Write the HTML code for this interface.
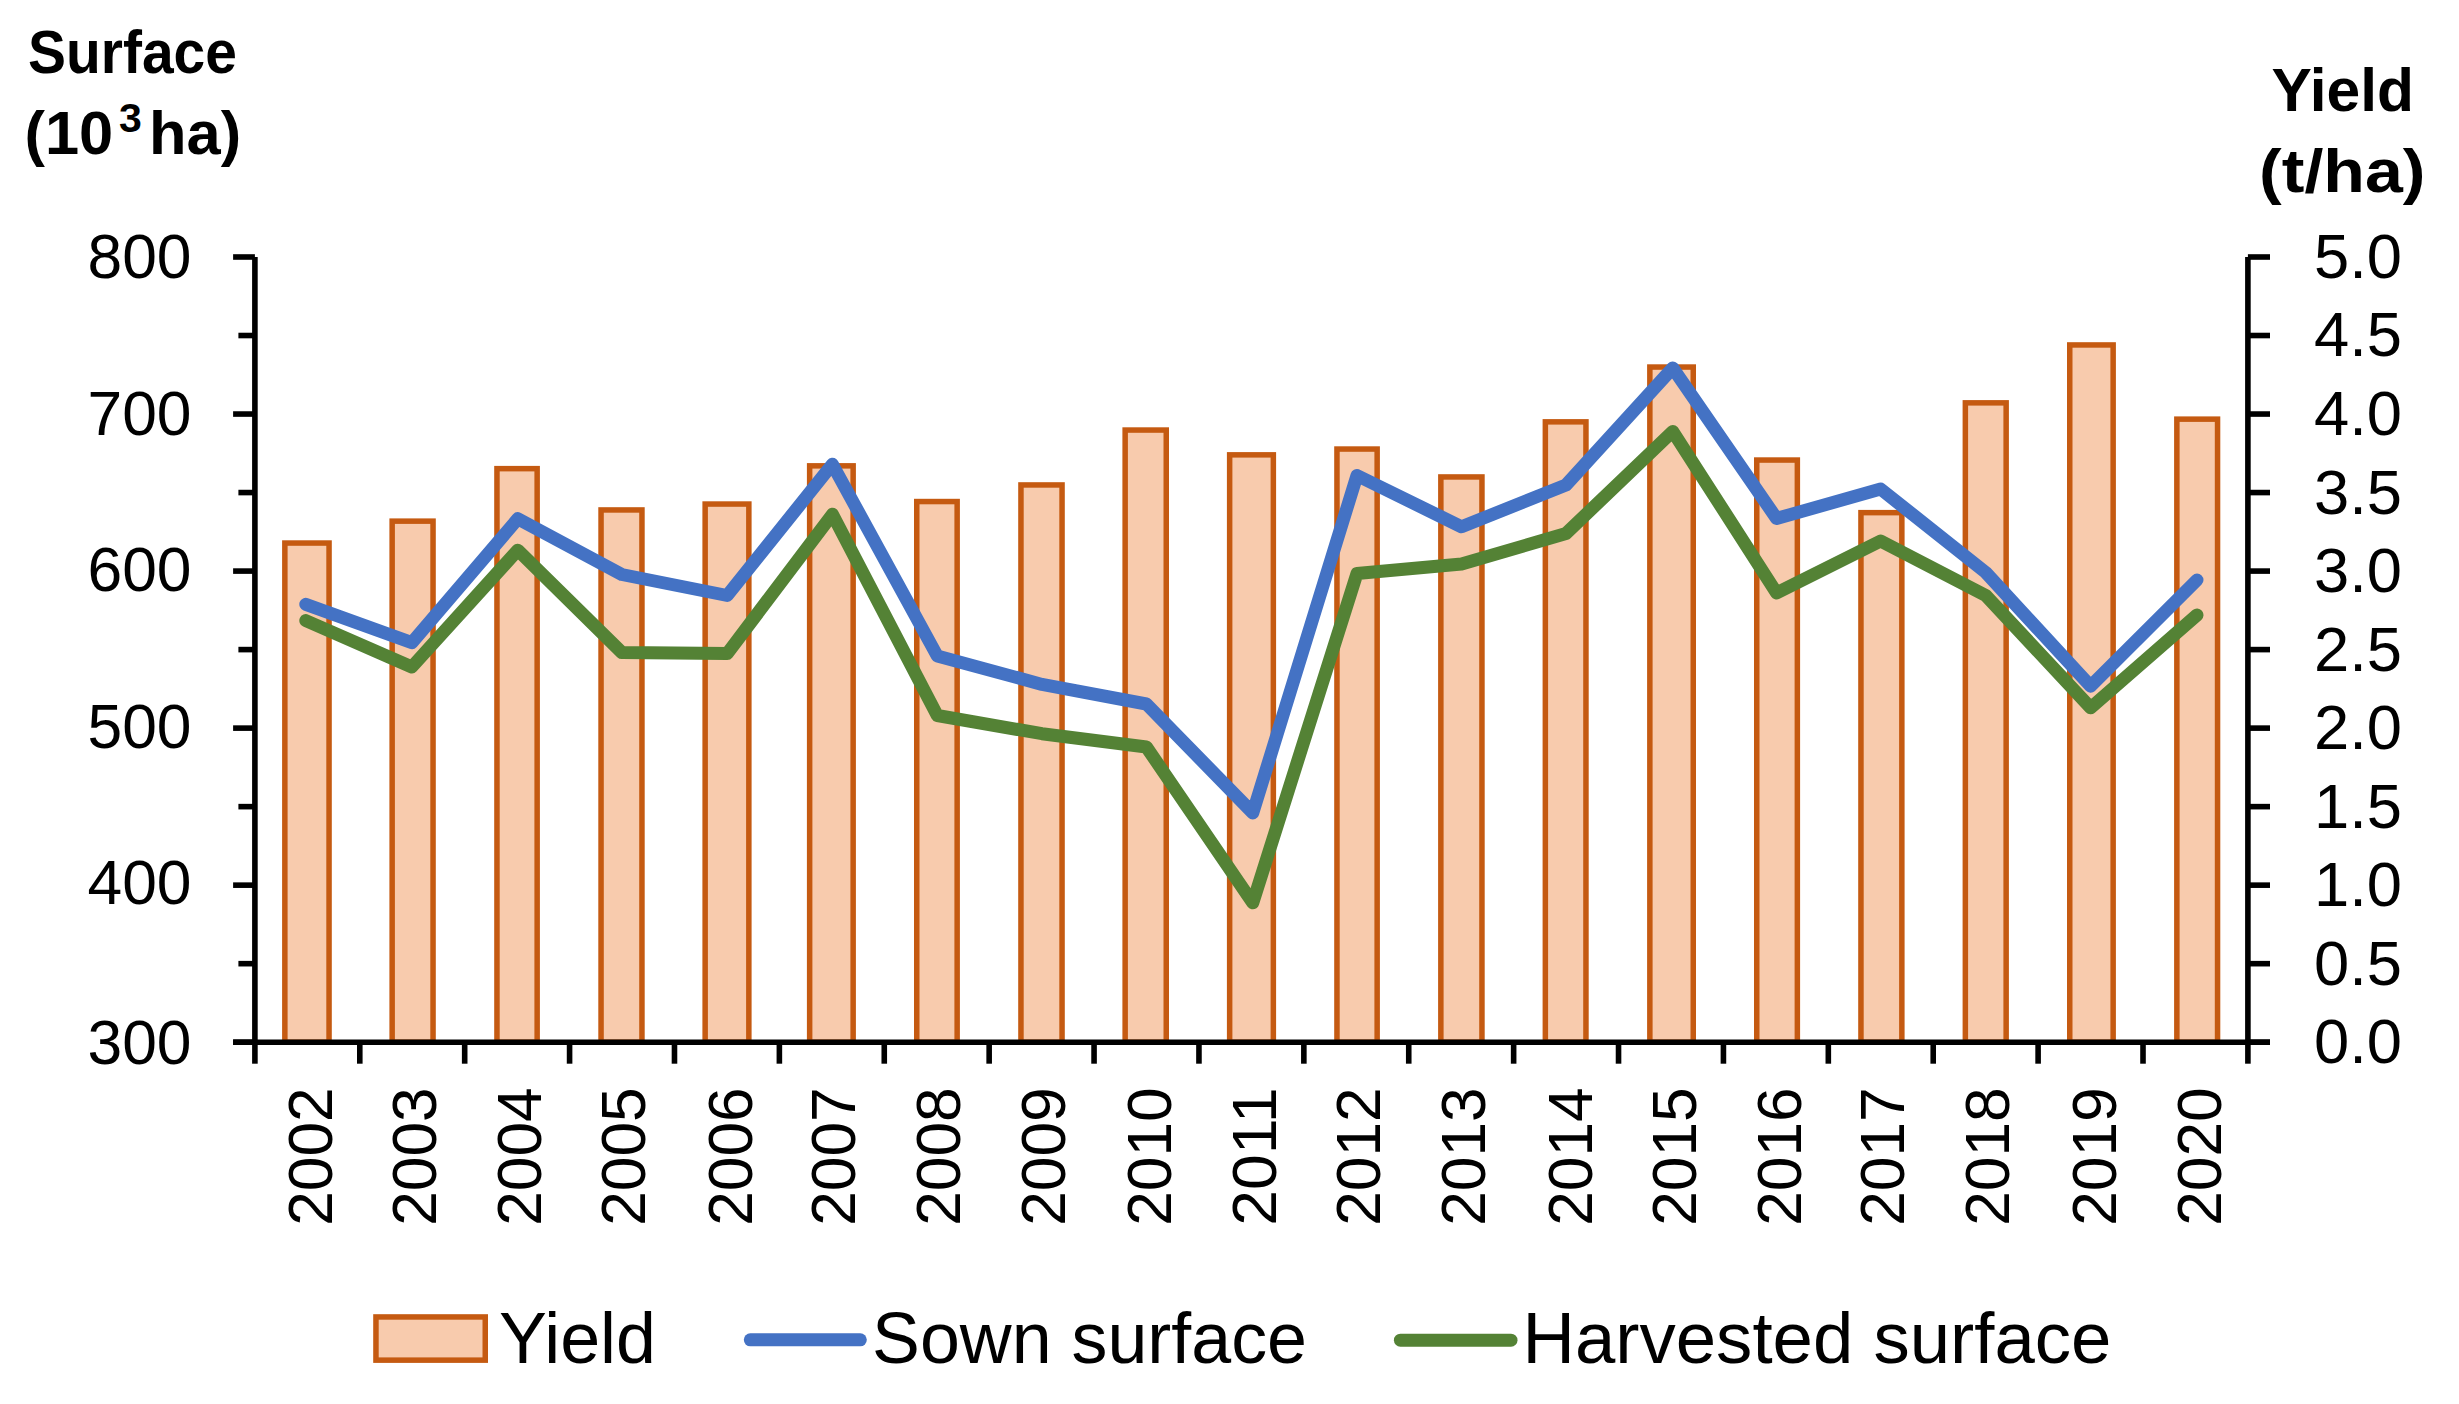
<!DOCTYPE html>
<html lang="en"><head><meta charset="utf-8"><title>Surface and yield 2002-2020</title>
<style>
html,body{margin:0;padding:0;background:#fff;overflow:hidden;}
svg{display:block;}
</style></head><body>
<svg width="2459" height="1404" viewBox="0 0 2459 1404">
<rect x="0" y="0" width="2459" height="1404" fill="#ffffff"/>
<g fill="#F8CBAD" stroke="#C55A11" stroke-width="5.5" stroke-linejoin="miter">
<rect x="284.85" y="543.05" width="44.2" height="499.15"/>
<rect x="392.15" y="521.15" width="40.9" height="521.05"/>
<rect x="496.95" y="468.65" width="40.2" height="573.55"/>
<rect x="601.05" y="509.95" width="40.9" height="532.25"/>
<rect x="705.15" y="504.05" width="43.7" height="538.15"/>
<rect x="809.65" y="465.85" width="43.5" height="576.35"/>
<rect x="916.75" y="501.55" width="40.4" height="540.65"/>
<rect x="1020.95" y="484.95" width="41.1" height="557.25"/>
<rect x="1125.15" y="430.05" width="41.1" height="612.15"/>
<rect x="1229.65" y="454.85" width="43.7" height="587.35"/>
<rect x="1336.95" y="449.05" width="40.2" height="593.15"/>
<rect x="1440.85" y="476.95" width="41.1" height="565.25"/>
<rect x="1545.35" y="421.85" width="40.6" height="620.35"/>
<rect x="1649.85" y="367.05" width="43.4" height="675.15"/>
<rect x="1756.75" y="460.05" width="40.6" height="582.15"/>
<rect x="1860.95" y="512.65" width="40.9" height="529.55"/>
<rect x="1965.35" y="402.85" width="40.8" height="639.35"/>
<rect x="2069.75" y="344.95" width="43.4" height="697.25"/>
<rect x="2176.85" y="419.15" width="40.7" height="623.05"/>
</g>
<polyline points="305.8,604.3 411.8,642.7 517.8,518.8 621.8,574.5 727.2,595.5 832.4,464.3 937.3,656 1042,684.4 1146.4,704 1252.8,812.9 1357,475.5 1461.6,526.8 1566,485 1672.8,368 1776.6,518.5 1880.6,489 1985.8,572.5 2090.6,686.2 2197,580" fill="none" stroke="#4472C4" stroke-width="13" stroke-linejoin="round" stroke-linecap="round"/>
<polyline points="305.8,620.6 411.8,667 517.8,550.2 621.8,652.5 727.2,653.6 832.4,514.3 937.3,715.5 1042,733.7 1146.4,747 1252.8,902.8 1357,573.5 1461.6,564 1566,533.5 1672.8,431.4 1776.6,592.9 1880.6,541 1985.8,595.5 2090.6,707.8 2197,615" fill="none" stroke="#548235" stroke-width="13" stroke-linejoin="round" stroke-linecap="round"/>
<g stroke="#000" stroke-width="5.6" stroke-linecap="butt"><line x1="254.9" y1="257" x2="254.9" y2="1042.2"/><line x1="2247.9" y1="257" x2="2247.9" y2="1042.2"/><line x1="233.1" y1="1042.2" x2="2270" y2="1042.2"/><line x1="233.1" y1="257" x2="254.9" y2="257"/><line x1="2247.9" y1="257" x2="2270" y2="257"/><line x1="238.4" y1="335.52" x2="254.9" y2="335.52"/><line x1="2247.9" y1="335.52" x2="2270" y2="335.52"/><line x1="233.1" y1="414.04" x2="254.9" y2="414.04"/><line x1="2247.9" y1="414.04" x2="2270" y2="414.04"/><line x1="238.4" y1="492.56" x2="254.9" y2="492.56"/><line x1="2247.9" y1="492.56" x2="2270" y2="492.56"/><line x1="233.1" y1="571.08" x2="254.9" y2="571.08"/><line x1="2247.9" y1="571.08" x2="2270" y2="571.08"/><line x1="238.4" y1="649.6" x2="254.9" y2="649.6"/><line x1="2247.9" y1="649.6" x2="2270" y2="649.6"/><line x1="233.1" y1="728.12" x2="254.9" y2="728.12"/><line x1="2247.9" y1="728.12" x2="2270" y2="728.12"/><line x1="238.4" y1="806.64" x2="254.9" y2="806.64"/><line x1="2247.9" y1="806.64" x2="2270" y2="806.64"/><line x1="233.1" y1="885.16" x2="254.9" y2="885.16"/><line x1="2247.9" y1="885.16" x2="2270" y2="885.16"/><line x1="238.4" y1="963.68" x2="254.9" y2="963.68"/><line x1="2247.9" y1="963.68" x2="2270" y2="963.68"/><line x1="233.1" y1="1042.2" x2="254.9" y2="1042.2"/><line x1="2247.9" y1="1042.2" x2="2270" y2="1042.2"/><line x1="254.9" y1="1042.2" x2="254.9" y2="1063.7"/><line x1="359.79" y1="1042.2" x2="359.79" y2="1063.7"/><line x1="464.69" y1="1042.2" x2="464.69" y2="1063.7"/><line x1="569.58" y1="1042.2" x2="569.58" y2="1063.7"/><line x1="674.48" y1="1042.2" x2="674.48" y2="1063.7"/><line x1="779.37" y1="1042.2" x2="779.37" y2="1063.7"/><line x1="884.27" y1="1042.2" x2="884.27" y2="1063.7"/><line x1="989.16" y1="1042.2" x2="989.16" y2="1063.7"/><line x1="1094.06" y1="1042.2" x2="1094.06" y2="1063.7"/><line x1="1198.95" y1="1042.2" x2="1198.95" y2="1063.7"/><line x1="1303.85" y1="1042.2" x2="1303.85" y2="1063.7"/><line x1="1408.74" y1="1042.2" x2="1408.74" y2="1063.7"/><line x1="1513.64" y1="1042.2" x2="1513.64" y2="1063.7"/><line x1="1618.53" y1="1042.2" x2="1618.53" y2="1063.7"/><line x1="1723.43" y1="1042.2" x2="1723.43" y2="1063.7"/><line x1="1828.32" y1="1042.2" x2="1828.32" y2="1063.7"/><line x1="1933.22" y1="1042.2" x2="1933.22" y2="1063.7"/><line x1="2038.11" y1="1042.2" x2="2038.11" y2="1063.7"/><line x1="2143.01" y1="1042.2" x2="2143.01" y2="1063.7"/><line x1="2247.9" y1="1042.2" x2="2247.9" y2="1063.7"/></g>
<g font-family="'Liberation Sans', sans-serif" fill="#000">
<text x="191.5" y="278.22" font-size="62.4" text-anchor="end" textLength="104" lengthAdjust="spacingAndGlyphs">800</text>
<text x="191.5" y="434.92" font-size="62.4" text-anchor="end" textLength="104" lengthAdjust="spacingAndGlyphs">700</text>
<text x="191.5" y="591.22" font-size="62.4" text-anchor="end" textLength="104" lengthAdjust="spacingAndGlyphs">600</text>
<text x="191.5" y="747.87" font-size="62.4" text-anchor="end" textLength="104" lengthAdjust="spacingAndGlyphs">500</text>
<text x="191.5" y="904.47" font-size="62.4" text-anchor="end" textLength="104" lengthAdjust="spacingAndGlyphs">400</text>
<text x="191.5" y="1063.72" font-size="62.4" text-anchor="end" textLength="104" lengthAdjust="spacingAndGlyphs">300</text>
<text x="2314" y="277.97" font-size="62.4" textLength="88" lengthAdjust="spacingAndGlyphs">5.0</text>
<text x="2314" y="356.49" font-size="62.4" textLength="88" lengthAdjust="spacingAndGlyphs">4.5</text>
<text x="2314" y="435.01" font-size="62.4" textLength="88" lengthAdjust="spacingAndGlyphs">4.0</text>
<text x="2314" y="513.53" font-size="62.4" textLength="88" lengthAdjust="spacingAndGlyphs">3.5</text>
<text x="2314" y="592.05" font-size="62.4" textLength="88" lengthAdjust="spacingAndGlyphs">3.0</text>
<text x="2314" y="670.57" font-size="62.4" textLength="88" lengthAdjust="spacingAndGlyphs">2.5</text>
<text x="2314" y="749.09" font-size="62.4" textLength="88" lengthAdjust="spacingAndGlyphs">2.0</text>
<text x="2314" y="827.61" font-size="62.4" textLength="88" lengthAdjust="spacingAndGlyphs">1.5</text>
<text x="2314" y="906.13" font-size="62.4" textLength="88" lengthAdjust="spacingAndGlyphs">1.0</text>
<text x="2314" y="984.65" font-size="62.4" textLength="88" lengthAdjust="spacingAndGlyphs">0.5</text>
<text x="2314" y="1063.17" font-size="62.4" textLength="88" lengthAdjust="spacingAndGlyphs">0.0</text>
<text transform="translate(331.94,1225.8) rotate(-90)" font-size="63.2" textLength="138.4" lengthAdjust="spacingAndGlyphs">2002</text>
<text transform="translate(436.34,1225.8) rotate(-90)" font-size="63.2" textLength="138.4" lengthAdjust="spacingAndGlyphs">2003</text>
<text transform="translate(540.64,1225.8) rotate(-90)" font-size="63.2" textLength="138.4" lengthAdjust="spacingAndGlyphs">2004</text>
<text transform="translate(645.34,1225.8) rotate(-90)" font-size="63.2" textLength="138.4" lengthAdjust="spacingAndGlyphs">2005</text>
<text transform="translate(751.54,1225.8) rotate(-90)" font-size="63.2" textLength="138.4" lengthAdjust="spacingAndGlyphs">2006</text>
<text transform="translate(855.44,1225.8) rotate(-90)" font-size="63.2" textLength="138.4" lengthAdjust="spacingAndGlyphs">2007</text>
<text transform="translate(959.94,1225.8) rotate(-90)" font-size="63.2" textLength="138.4" lengthAdjust="spacingAndGlyphs">2008</text>
<text transform="translate(1064.84,1225.8) rotate(-90)" font-size="63.2" textLength="138.4" lengthAdjust="spacingAndGlyphs">2009</text>
<text transform="translate(1170.64,1225.8) rotate(-90)" font-size="63.2" textLength="138.4" lengthAdjust="spacingAndGlyphs">2010</text>
<text transform="translate(1276.04,1225.8) rotate(-90)" font-size="63.2" textLength="138.4" lengthAdjust="spacingAndGlyphs">2011</text>
<text transform="translate(1379.74,1225.8) rotate(-90)" font-size="63.2" textLength="138.4" lengthAdjust="spacingAndGlyphs">2012</text>
<text transform="translate(1484.64,1225.8) rotate(-90)" font-size="63.2" textLength="138.4" lengthAdjust="spacingAndGlyphs">2013</text>
<text transform="translate(1591.84,1225.8) rotate(-90)" font-size="63.2" textLength="138.4" lengthAdjust="spacingAndGlyphs">2014</text>
<text transform="translate(1696.14,1225.8) rotate(-90)" font-size="63.2" textLength="138.4" lengthAdjust="spacingAndGlyphs">2015</text>
<text transform="translate(1800.94,1225.8) rotate(-90)" font-size="63.2" textLength="138.4" lengthAdjust="spacingAndGlyphs">2016</text>
<text transform="translate(1903.94,1225.8) rotate(-90)" font-size="63.2" textLength="138.4" lengthAdjust="spacingAndGlyphs">2017</text>
<text transform="translate(2009.14,1225.8) rotate(-90)" font-size="63.2" textLength="138.4" lengthAdjust="spacingAndGlyphs">2018</text>
<text transform="translate(2115.94,1225.8) rotate(-90)" font-size="63.2" textLength="138.4" lengthAdjust="spacingAndGlyphs">2019</text>
<text transform="translate(2220.64,1225.8) rotate(-90)" font-size="63.2" textLength="138.4" lengthAdjust="spacingAndGlyphs">2020</text>
<text x="28" y="72.6" font-size="61.4" font-weight="bold" textLength="209" lengthAdjust="spacingAndGlyphs">Surface</text>
<text font-size="61.4" font-weight="bold"><tspan x="24.5" y="154.2">(10</tspan><tspan x="119" y="132.3" font-size="41">3</tspan><tspan x="149" y="154.2">ha)</tspan></text>
<text x="2271.5" y="111.2" font-size="61.4" font-weight="bold" textLength="142.5" lengthAdjust="spacingAndGlyphs">Yield</text>
<text x="2259" y="192.3" font-size="61.4" font-weight="bold" textLength="166.5" lengthAdjust="spacingAndGlyphs">(t/ha)</text>
<text x="499" y="1363.1" font-size="71.5" textLength="157" lengthAdjust="spacingAndGlyphs">Yield</text>
<text x="872" y="1363" font-size="71.5" textLength="435" lengthAdjust="spacingAndGlyphs">Sown surface</text>
<text x="1522.5" y="1363.3" font-size="71.5" textLength="589" lengthAdjust="spacingAndGlyphs">Harvested surface</text>
</g>
<rect x="375.95" y="1316.95" width="109.3" height="43.2" fill="#F8CBAD" stroke="#C55A11" stroke-width="5.5"/>
<line x1="750.3" y1="1339.8" x2="860.3" y2="1339.8" stroke="#4472C4" stroke-width="13" stroke-linecap="round"/>
<line x1="1400.4" y1="1340.2" x2="1511" y2="1340.2" stroke="#548235" stroke-width="13" stroke-linecap="round"/>
</svg>
</body></html>
